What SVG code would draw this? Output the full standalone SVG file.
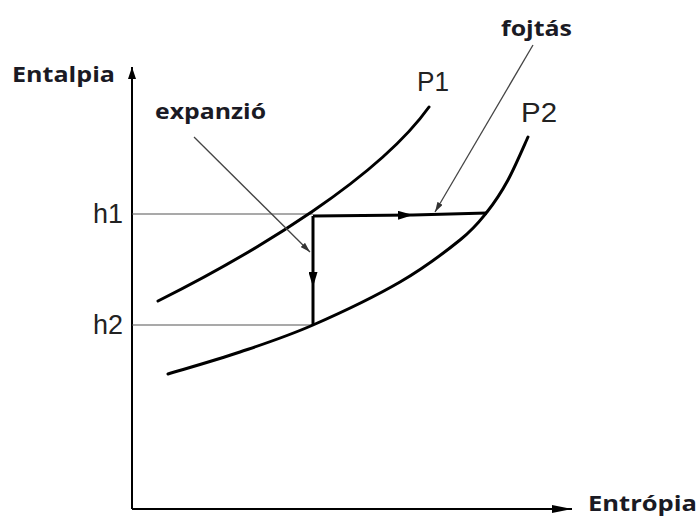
<svg xmlns="http://www.w3.org/2000/svg" width="700" height="517" viewBox="0 0 700 517">
  <style>
    .bold { font-family: "Open Sans", "Noto Sans", "Liberation Sans", sans-serif; font-weight: bold; font-size: 22px; fill: #1a1a24; }
    .reg { font-family: "Liberation Sans", Arial, sans-serif; font-size: 27px; fill: #222; }
    .curve { fill: none; stroke: #000; stroke-width: 3; stroke-linecap: round; }
    .axis { fill: none; stroke: #000; stroke-width: 2; }
    .thin { fill: none; stroke: #555; stroke-width: 1.2; }
    .thick { fill: none; stroke: #000; stroke-width: 3; }
    .leader { fill: none; stroke: #444; stroke-width: 1.3; }
  </style>
  <defs>
    <marker id="axisHeadY" viewBox="0 0 12 8" refX="12" refY="4" markerWidth="12" markerHeight="8" markerUnits="userSpaceOnUse" orient="auto">
      <path d="M0,0 L12,4 L0,8 z" fill="#000"/>
    </marker>
    <marker id="axisHeadX" viewBox="0 0 20 8" refX="20" refY="4" markerWidth="20" markerHeight="8" markerUnits="userSpaceOnUse" orient="auto">
      <path d="M0,0 L20,4 L0,8 z" fill="#000"/>
    </marker>
    <marker id="flowHead" viewBox="0 0 15 9" refX="15" refY="4.5" markerWidth="15" markerHeight="9" markerUnits="userSpaceOnUse" orient="auto">
      <path d="M0,0 L15,4.5 L0,9 z" fill="#000"/>
    </marker>
    <marker id="leaderHead" viewBox="0 0 10 6" refX="10" refY="3" markerWidth="10" markerHeight="6" markerUnits="userSpaceOnUse" orient="auto">
      <path d="M0,0 L10,3 L0,6 z" fill="#333"/>
    </marker>
  </defs>
  <rect width="700" height="517" fill="#fff"/>

  <g id="axes">
    <path class="axis" d="M132,509 L132,67" marker-end="url(#axisHeadY)"/>
    <path class="axis" d="M132,509 L572,509" marker-end="url(#axisHeadX)"/>
    <text class="bold" x="12" y="82" textLength="103" lengthAdjust="spacingAndGlyphs">Entalpia</text>
    <text class="bold" x="588" y="511" textLength="109" lengthAdjust="spacingAndGlyphs" style="font-size:21px">Entrópia</text>
  </g>

  <g id="levels">
    <line class="thin" x1="132" y1="214" x2="313" y2="214"/>
    <line class="thin" x1="132" y1="325" x2="313" y2="325"/>
    <text class="reg" x="93" y="223" textLength="30" lengthAdjust="spacingAndGlyphs">h1</text>
    <text class="reg" x="93" y="334" textLength="30" lengthAdjust="spacingAndGlyphs">h2</text>
  </g>

  <g id="P1">
    <path class="curve" d="M158,301 C258,251 379,177 429,107"/>
    <text class="reg" x="417" y="91" textLength="32" lengthAdjust="spacingAndGlyphs">P1</text>
  </g>

  <g id="P2">
    <path class="curve" d="M168,374 C180,370.3 215.8,360.2 240,352 C264.2,343.8 286.3,336.7 313,325 C339.7,313.3 375.5,296.2 400,282 C424.5,267.8 445.5,251.7 460,240 C474.5,228.3 479,222 487,212 C495,202 501.2,192.5 508,180 C514.8,167.5 524.7,144.2 528,137"/>
    <text class="reg" x="521" y="122" textLength="36" lengthAdjust="spacingAndGlyphs">P2</text>
  </g>

  <g id="expanzio-label">
    <text class="bold" x="155" y="119" textLength="111" lengthAdjust="spacingAndGlyphs">expanzió</text>
  </g>

  <g id="fojtas-label">
    <text class="bold" x="501" y="36" textLength="71" lengthAdjust="spacingAndGlyphs">fojtás</text>
  </g>

  <g id="connectors">
    <path class="thick" d="M313,216 L413,215 L487,213" marker-mid="url(#flowHead)"/>
    <path class="thick" d="M313,216 L313,287 L313,325" marker-mid="url(#flowHead)"/>
    <path class="leader" d="M194,137 L310,252" marker-end="url(#leaderHead)"/>
    <path class="leader" d="M533,45 L435,212" marker-end="url(#leaderHead)"/>
  </g>
</svg>
